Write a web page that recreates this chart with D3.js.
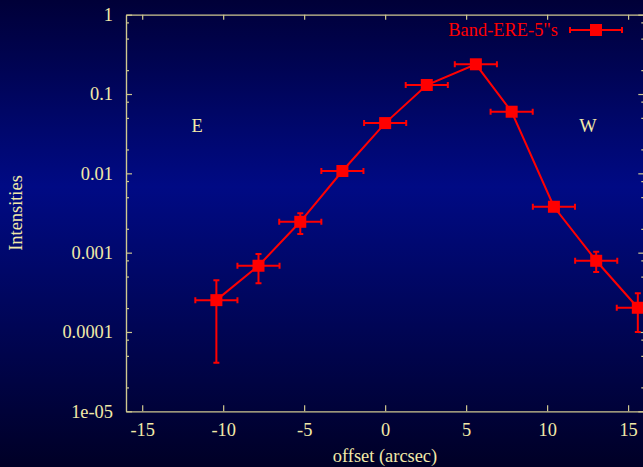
<!DOCTYPE html>
<html>
<head>
<meta charset="utf-8">
<script src="https://cdn.jsdelivr.net/npm/d3@7/dist/d3.min.js"></script>
<style>
html,body{margin:0;padding:0;background:#000030;}
svg{display:block;}
</style>
</head>
<body>
<svg id="chart" width="643" height="467"></svg>
<script>
// ---- data ----
const offsets   = [-10.42, -7.82, -5.24, -2.64, 0, 2.57, 5.6, 7.81, 10.42, 13.03, 15.6];
const intensity = [2.52e-4, 6.84e-4, 2.45e-3, 0.0107, 0.043, 0.13, 0.237, 0.0598, 0.00379, 7.9e-4, 2.02e-4];
const yLow      = [4.1e-5, 4.1e-4, 1.72e-3, 0.0095, 0.039, 0.118, 0.215, 0.054, 0.0034, 5.69e-4, 1.0e-4];
const yHigh     = [4.5e-4, 9.6e-4, 3.15e-3, 0.0119, 0.047, 0.142, 0.259, 0.065, 0.0042, 1.03e-3, 3.07e-4];
const xErr      = [1.3, 1.3, 1.3, 1.3, 1.3, 1.3, 1.3, 1.3, 1.3, 1.3, 1.3];
const xTicks    = [-15, -10, -5, 0, 5, 10, 15];
const yTicks    = [1, 0.1, 0.01, 0.001, 0.0001, 0.00001];
const yTickLabels = ["1", "0.1", "0.01", "0.001", "0.0001", "1e-05"];
const yMinor    = [0.8, 0.5, 0.2, 0.08, 0.05, 0.02, 0.008, 0.005, 0.002, 0.0008, 0.0005, 0.0002, 0.00008, 0.00005, 0.00002];
const seriesName = "Band-ERE-5\"s";

(function(){
// ---- layout ----
const W = 643, H = 467;
const mLeft = 126, mRight = 644.3, mTop = 14.7, mBottom = 411.3;
const axisColor = "#cfc890";
const textColor = "#f2eaa8";
const font = "'Liberation Serif', 'DejaVu Serif', serif";
const fs = 18.4;
const red = "#ff0000";

const svg = d3.select("#chart");
const defs = svg.append("defs");
const grad = defs.append("linearGradient").attr("id","bg").attr("x1",0).attr("y1",0).attr("x2",0).attr("y2",1);
grad.append("stop").attr("offset","0%").attr("stop-color","#000038");
grad.append("stop").attr("offset","40%").attr("stop-color","#000a84");
grad.append("stop").attr("offset","100%").attr("stop-color","#000026");
svg.append("rect").attr("width",W).attr("height",H).attr("fill","url(#bg)");

defs.append("clipPath").attr("id","plotclip").append("rect")
  .attr("x",mLeft).attr("y",mTop).attr("width",mRight-mLeft).attr("height",mBottom-mTop);

const x = d3.scaleLinear().domain([-16, 16]).range([mLeft, mRight]);
const y = d3.scaleLog().domain([1e-5, 1]).range([mBottom, mTop]);

function styleAxis(g){
  g.selectAll(".domain").attr("stroke",axisColor).attr("stroke-width",1.2);
  g.selectAll(".tick line").attr("stroke",axisColor).attr("stroke-width",1.2);
  g.selectAll(".tick text").attr("fill",textColor).style("font-family",font).style("font-size",fs+"px");
}

svg.append("g").attr("transform",`translate(0,${mBottom})`)
  .call(d3.axisBottom(x).tickValues(xTicks).tickFormat(d=>d).tickSizeInner(-6).tickSizeOuter(0).tickPadding(12))
  .call(styleAxis);
svg.append("g").attr("transform",`translate(0,${mTop})`)
  .call(d3.axisTop(x).tickValues(xTicks).tickFormat("").tickSizeInner(-5).tickSizeOuter(0))
  .call(styleAxis);
svg.append("g").attr("transform",`translate(${mLeft},0)`)
  .call(d3.axisLeft(y).tickValues(yTicks).tickFormat((d,i)=>yTickLabels[i]).tickSizeInner(-6).tickSizeOuter(0).tickPadding(13))
  .call(styleAxis);
svg.append("g").attr("transform",`translate(${mLeft},0)`)
  .call(d3.axisLeft(y).tickValues(yMinor).tickFormat("").tickSizeInner(-3).tickSizeOuter(0))
  .call(styleAxis);
svg.append("g").attr("transform",`translate(${mRight},0)`)
  .call(d3.axisRight(y).tickValues(yTicks).tickFormat("").tickSizeInner(-6).tickSizeOuter(0))
  .call(styleAxis);
svg.append("g").attr("transform",`translate(${mRight},0)`)
  .call(d3.axisRight(y).tickValues(yMinor).tickFormat("").tickSizeInner(-3).tickSizeOuter(0))
  .call(styleAxis);

svg.append("text").attr("x",385).attr("y",462).attr("text-anchor","middle")
  .attr("fill",textColor).style("font-family",font).style("font-size",fs+"px").text("offset (arcsec)");
svg.append("text").attr("transform","translate(22,213) rotate(-90)").attr("text-anchor","middle")
  .attr("fill",textColor).style("font-family",font).style("font-size",fs+"px").text("Intensities");

svg.append("text").attr("x",197).attr("y",132).attr("text-anchor","middle")
  .attr("fill",textColor).style("font-family",font).style("font-size",fs+"px").text("E");
svg.append("text").attr("x",588).attr("y",132).attr("text-anchor","middle")
  .attr("fill",textColor).style("font-family",font).style("font-size",fs+"px").text("W");

const data = offsets.map((o,i)=>({x:o,y:intensity[i],lo:yLow[i],hi:yHigh[i],xe:xErr[i]}));
const plot = svg.append("g").attr("clip-path","url(#plotclip)");
const cap = 3;
const eb = plot.append("g").attr("stroke",red).attr("stroke-width",2);
data.forEach(d=>{
  const cx = x(d.x), cy = y(d.y);
  const x0 = x(d.x-d.xe), x1 = x(d.x+d.xe);
  const y0 = y(d.lo), y1 = y(d.hi);
  eb.append("line").attr("x1",x0).attr("x2",x1).attr("y1",cy).attr("y2",cy);
  eb.append("line").attr("x1",x0).attr("x2",x0).attr("y1",cy-cap).attr("y2",cy+cap);
  eb.append("line").attr("x1",x1).attr("x2",x1).attr("y1",cy-cap).attr("y2",cy+cap);
  eb.append("line").attr("x1",cx).attr("x2",cx).attr("y1",y0).attr("y2",y1);
  eb.append("line").attr("x1",cx-cap).attr("x2",cx+cap).attr("y1",y0).attr("y2",y0);
  eb.append("line").attr("x1",cx-cap).attr("x2",cx+cap).attr("y1",y1).attr("y2",y1);
});
plot.append("path").datum(data)
  .attr("d",d3.line().x(d=>x(d.x)).y(d=>y(d.y)))
  .attr("fill","none").attr("stroke",red).attr("stroke-width",2);
const ms = 12;
plot.selectAll("rect.pt").data(data).enter().append("rect").attr("class","pt")
  .attr("x",d=>x(d.x)-ms/2).attr("y",d=>y(d.y)-ms/2).attr("width",ms).attr("height",ms).attr("fill",red);

const lg = svg.append("g");
const ly = 30, lx0 = 570, lx1 = 622, lxm = 596;
lg.append("text").attr("x",558).attr("y",36).attr("text-anchor","end")
  .attr("fill",red).style("font-family",font).style("font-size",fs+"px").text(seriesName);
lg.append("line").attr("x1",lx0).attr("x2",lx1).attr("y1",ly).attr("y2",ly).attr("stroke",red).attr("stroke-width",2);
lg.append("line").attr("x1",lx0).attr("x2",lx0).attr("y1",ly-cap).attr("y2",ly+cap).attr("stroke",red).attr("stroke-width",2);
lg.append("line").attr("x1",lx1).attr("x2",lx1).attr("y1",ly-cap).attr("y2",ly+cap).attr("stroke",red).attr("stroke-width",2);
lg.append("rect").attr("x",lxm-ms/2).attr("y",ly-ms/2).attr("width",ms).attr("height",ms).attr("fill",red);
})();
</script>
</body>
</html>
